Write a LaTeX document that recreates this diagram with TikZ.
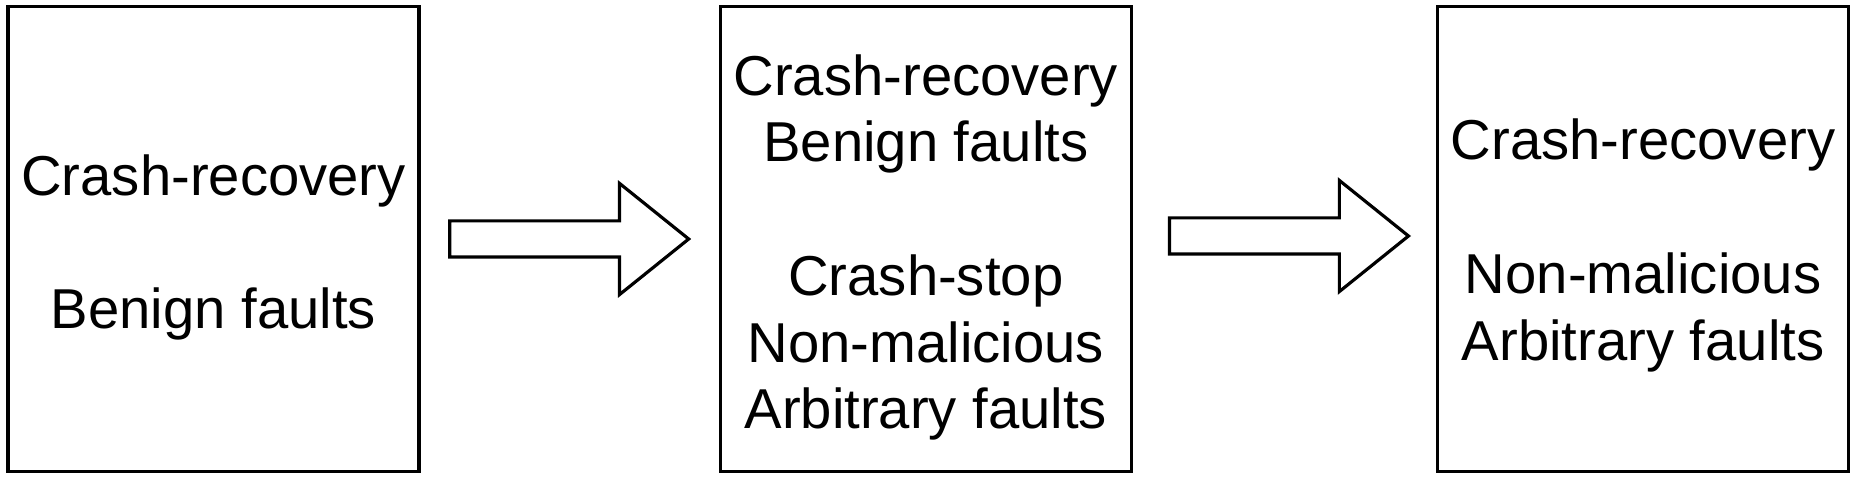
\documentclass[tikz,border=0pt]{standalone}
\usepackage{fontspec}
\setmainfont{Liberation Sans}
\usetikzlibrary{shapes.arrows, positioning}
\tikzset{
  faultbox/.style={rectangle, draw=black, line width=1.8pt,
    minimum width=8.22cm, minimum height=9.3cm, inner sep=0pt},
  faulttext/.style={align=center, inner sep=0pt,
    font=\fontsize{32}{38}\selectfont},
  bigarrow/.style={single arrow, draw=black, fill=white, line width=1.8pt,
    minimum width=2.16cm, minimum height=4.78cm,
    inner xsep=0pt, inner ysep=0.33cm, text height=0pt, text depth=0pt,
    single arrow head extend=0.75cm, single arrow tip angle=77.6,
    shape border rotate=0}
}
\begin{document}
\begin{tikzpicture}
  \useasboundingbox (0,0) rectangle (37.24,9.56);

  % Boxes
  \node[faultbox] (benign) at (4.27,4.78) {};
  \node[bigarrow, right=0.55cm of benign] (step1) {};
  \node[faultbox, right=0.55cm of step1] (mixed) {};
  \node[bigarrow, right=0.7cm of mixed, yshift=0.06cm] (step2) {};
  \node[faultbox, right=0.5cm of step2, yshift=-0.06cm] (nonmal) {};

  % Texts
  \node[faulttext] (benigntxt) at ([yshift=-0.17cm]benign.center)
    {Crash-recovery\\[38pt]Benign faults};
  \node[faulttext] (mixedtxt) at ([yshift=-0.17cm]mixed.center)
    {Crash-recovery\\Benign faults\\[38pt]Crash-stop\\Non-malicious\\Arbitrary faults};
  \node[faulttext] (nonmaltxt) at ([yshift=-0.13cm]nonmal.center)
    {Crash-recovery\\[38pt]Non-malicious\\Arbitrary faults};
\end{tikzpicture}
\end{document}
